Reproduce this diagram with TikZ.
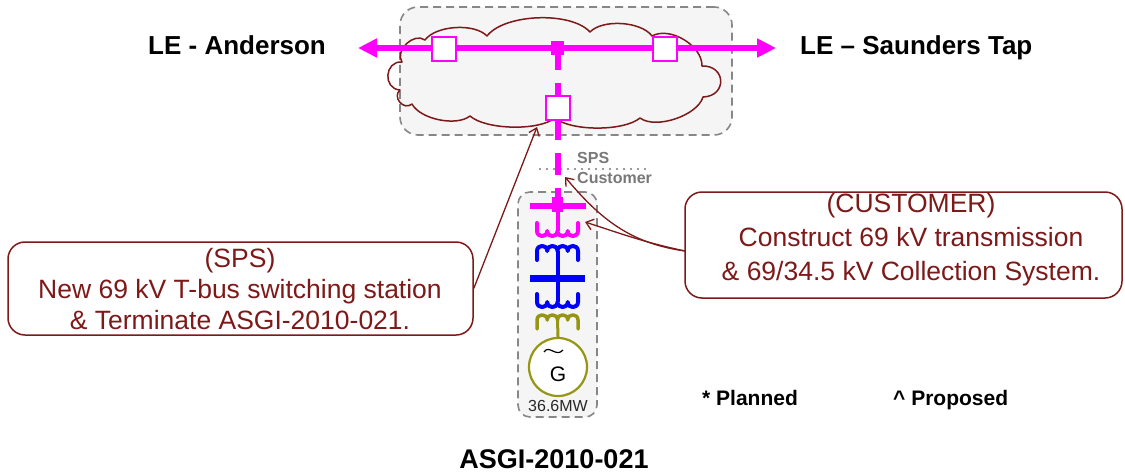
\documentclass[tikz,border=0pt]{standalone}
\usepackage{fontspec}
\setmainfont{Liberation Sans}
\usetikzlibrary{arrows.meta}
\definecolor{mag}{RGB}{255,0,255}
\definecolor{dred}{RGB}{125,25,25}
\definecolor{olv}{RGB}{150,150,20}
\definecolor{blu}{RGB}{0,0,255}
\definecolor{boxfill}{RGB}{245,245,245}
\definecolor{boxline}{RGB}{135,135,135}
\definecolor{txtgray}{RGB}{120,120,120}
\begin{document}
\begin{tikzpicture}[x=1pt,y=-1pt,
  zone/.style={draw=boxline, fill=boxfill, dash pattern=on 8pt off 5pt, line width=1.6pt, inner sep=0pt},
  brk/.style={draw=mag, fill=white, line width=2pt, minimum size=24pt, inner sep=0pt},
  junc/.style={fill=mag, inner sep=0pt},
  callout/.style={draw=dred, line width=1.5pt, rounded corners=17pt, inner sep=0pt},
  callouttext/.style={text=dred, align=center, font=\fontsize{26.5}{33}\selectfont, inner sep=0pt},
  pointer/.style={draw=dred, line width=1.3pt, -{Straight Barb[length=7pt,width=11pt]}},
  bigtip/.style={line width=6pt, draw=mag, {Triangle[length=19pt,width=18pt]}-{Triangle[length=19pt,width=18pt]}},
  lbl/.style={inner sep=0pt, font=\bfseries\fontsize{26}{30}\selectfont},
  coildown/.pic={\draw[line cap=round, line join=round] (-20.5,-8) -- (-20.5,0) .. controls (-20.5,6.8) and (-10.25,6.8) .. (-10.25,0) .. controls (-10.25,6.8) and (0,6.8) .. (0,0) .. controls (0,6.8) and (10.25,6.8) .. (10.25,0) .. controls (10.25,6.8) and (20.5,6.8) .. (20.5,0) -- (20.5,-8);},
  coilup/.pic={\draw[line cap=round, line join=round] (-20.5,9) -- (-20.5,0) .. controls (-20.5,-6.8) and (-10.25,-6.8) .. (-10.25,0) .. controls (-10.25,-6.8) and (0,-6.8) .. (0,0) .. controls (0,-6.8) and (10.25,-6.8) .. (10.25,0) .. controls (10.25,-6.8) and (20.5,-6.8) .. (20.5,0) -- (20.5,9);}
]
\useasboundingbox (0,0) rectangle (1125,474);
% zones
\node[zone, rounded corners=18pt, minimum width=332pt, minimum height=128pt] (subzone) at (566,71) {};
\node[zone, rounded corners=12pt, minimum width=79pt, minimum height=225pt] (custzone) at (557.5,304.5) {};
% cloud
\draw[dred, line width=1.5pt, line join=round]
  (400,90) to[bend left=90, looseness=1.6] (402,62)
  to[bend left=80, looseness=1.1] (425,40)
  to[bend left=50, looseness=0.75] (487,36)
  to[bend left=50, looseness=0.7] (590,32)
  to[bend left=50, looseness=0.75] (652,36)
  to[bend left=60, looseness=0.9] (702,66)
  to[bend left=90, looseness=2] (703,97)
  to[bend left=55, looseness=0.75] (640,118)
  to[bend left=40, looseness=0.63] (555,118)
  to[bend left=40, looseness=0.63] (470,116)
  to[bend left=50, looseness=0.75] (412,104)
  to[bend left=90, looseness=1.5] (400,90) -- cycle;
% SPS / Customer boundary
\coordinate (bd1) at (540,169);
\coordinate (bd2) at (648,169);
\draw[txtgray, line width=2.2pt, line cap=round, dash pattern=on 0pt off 7pt] (bd1) -- (bd2);
\node[inner sep=0pt, anchor=base west, text=txtgray, font=\bfseries\fontsize{16}{18}\selectfont] (spst) at (577,163) {SPS};
\node[inner sep=0pt, anchor=base west, text=txtgray, font=\bfseries\fontsize{16}{18}\selectfont] (custt) at (577,183) {Customer};
% main bus
\coordinate (ltip) at (358,48);
\coordinate (rtip) at (776,48);
\node[junc, minimum width=13pt, minimum height=14pt] (tj) at (557.5,48) {};
\node[junc, minimum width=11pt, minimum height=15pt] (lbj) at (557.5,204.5) {};
\draw[mag, line width=6pt, dash pattern=on 22pt off 13pt] (tj.center) -- (lbj.center);
\draw[bigtip] (ltip) -- (rtip);
\node[junc, minimum width=13pt, minimum height=14pt] at (tj) {};
\node[brk] (b1) at (444,49) {};
\node[brk] (b2) at (665,49) {};
\node[brk] (b3) at (557.5,108) {};
% lower bus
\coordinate (lb1) at (530,206);
\coordinate (lb2) at (586,206);
\draw[mag, line width=6.5pt] (lb1) -- (lb2);
\node[junc, minimum width=11pt, minimum height=15pt] at (lbj) {};
\coordinate (c1) at (557.5,231);
\draw[mag, line width=4pt] (lbj.center) -- (c1);
\pic[color=mag, line width=4pt] at (c1) {coildown};
% blue transformer side
\coordinate (c2) at (557.5,251);
\coordinate (c3) at (557.5,302);
\coordinate (bb1) at (530,278);
\coordinate (bb2) at (585,278);
\draw[blu, line width=4pt] (c2) -- (c3);
\draw[blu, line width=7pt] (bb1) -- (bb2);
\pic[color=blu, line width=4pt] at (c2) {coilup};
\pic[color=blu, line width=4pt] at (c3) {coildown};
% olive
\coordinate (c4) at (557.5,320);
\pic[color=olv, line width=3.5pt] at (c4) {coilup};
\node[circle, draw=olv, line width=2.2pt, fill=white, minimum size=58pt, inner sep=0pt] (gen) at (558,367) {};
\draw[olv, line width=3pt] (c4) -- (gen.north);
\node[inner sep=0pt, font=\fontsize{21}{21}\selectfont] (glbl) at (558,374) {G};
\coordinate (tl1) at (544,352);
\coordinate (tl2) at (563,350);
\draw[black, line width=1.2pt] (tl1) .. controls (549,344) and (556,358) .. (tl2);
\node[inner sep=0pt, text={rgb,255:red,40;green,40;blue,40}, font=\fontsize{16}{18}\selectfont] (mw) at (558,406) {36.6MW};
% labels
\node[lbl, anchor=base west] (lA) at (148,54) {LE - Anderson};
\node[lbl, anchor=base west] (lS) at (800,54) {LE – Saunders Tap};
\node[inner sep=0pt, anchor=base, font=\bfseries\fontsize{27}{30}\selectfont] (asgi) at (554,468) {ASGI-2010-021};
\node[inner sep=0pt, anchor=base west, font=\bfseries\fontsize{21}{24}\selectfont] (pl) at (702,405) {* Planned};
\node[inner sep=0pt, anchor=base west, font=\bfseries\fontsize{21}{24}\selectfont] (pr) at (893,405) {\textasciicircum{} Proposed};
% callouts
\node[callout, minimum width=465pt, minimum height=93pt] (sps) at (240.5,288.5) {};
\node[callouttext, font=\fontsize{26.5}{31}\selectfont] (spstxt) at (240,289) {(SPS)\\New 69 kV T-bus switching station\\\& Terminate ASGI-2010-021.};
\node[callout, minimum width=437pt, minimum height=106pt] (cust) at (903.5,245) {};
\node[callouttext, font=\fontsize{26.5}{34}\selectfont] (custtxt) at (911,240) {(CUSTOMER)\\Construct 69 kV transmission\\\& 69/34.5 kV Collection System.};
\coordinate (ctip) at (537,127);
\coordinate (cs) at (685,251);
\coordinate (t1) at (565,177);
\coordinate (t2) at (585,222);
\draw[pointer] (sps.east) -- (ctip);
\draw[pointer] (cs) to[out=172,in=-50] (t1);
\draw[pointer] (cs) to[out=168,in=-18] (t2);
\end{tikzpicture}
\end{document}
